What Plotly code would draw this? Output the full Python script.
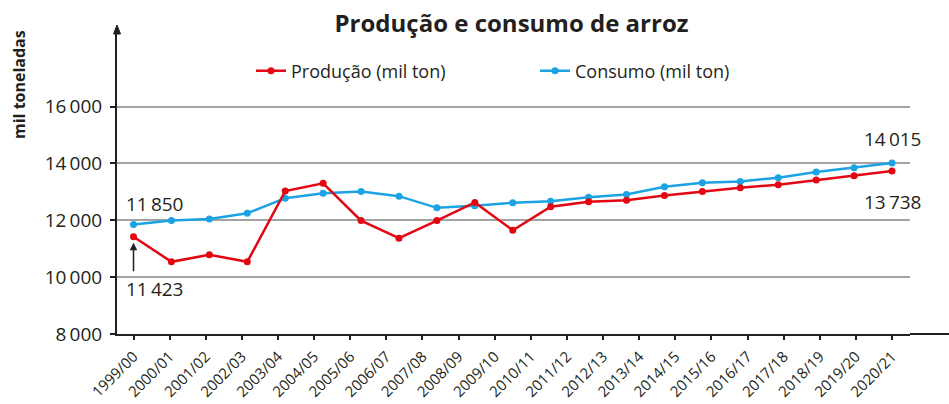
import plotly.graph_objects as go

# Safras exibidas no eixo horizontal
safras = ["1999/00", "2000/01", "2001/02", "2002/03", "2003/04", "2004/05",
          "2005/06", "2006/07", "2007/08", "2008/09", "2009/10", "2010/11",
          "2011/12", "2012/13", "2013/14", "2014/15", "2015/16", "2016/17",
          "2017/18", "2018/19", "2019/20", "2020/21"]

# Séries (mil toneladas)
producao = [11423, 10540, 10790, 10540, 13030, 13300, 11990, 11370, 11990,
            12630, 11650, 12480, 12650, 12710, 12870, 13010, 13150, 13250,
            13420, 13570, 13738]
consumo = [11850, 11990, 12050, 12250, 12780, 12950, 13010, 12850, 12440,
           12510, 12620, 12670, 12810, 12910, 13180, 13320, 13370, 13500,
           13700, 13850, 14015]

y_ticks = [8000, 10000, 12000, 14000, 16000]

TXT = "#231F20"
RED = "#E30613"
BLUE = "#1BA3E3"
FONT = "Open Sans"


def fmt(v):
    return f"{v:,}".replace(",", "\u2009")


pontos = list(range(len(producao)))

fig = go.Figure()
fig.add_trace(go.Scatter(
    x=pontos, y=consumo, xaxis="x2", name="Consumo (mil ton)",
    mode="lines+markers", line=dict(color=BLUE, width=2.5),
    marker=dict(color=BLUE, size=7)))
fig.add_trace(go.Scatter(
    x=pontos, y=producao, xaxis="x2", name="Produção (mil ton)",
    mode="lines+markers", line=dict(color=RED, width=2.5),
    marker=dict(color=RED, size=7)))

# invisible trace so the category axis carries all season labels
fig.add_trace(go.Scatter(x=safras, y=[None] * len(safras), mode="markers",
                         showlegend=False, hoverinfo="skip"))

n_pts = len(pontos) - 1
n_cat = len(safras) - 1
cat_range = [-0.457, n_cat + 0.498]
pt_range = [r * n_pts / n_cat for r in cat_range]

fig.update_layout(
    width=949, height=404,
    margin=dict(l=117, r=39, t=28, b=70),
    paper_bgcolor="white", plot_bgcolor="white",
    font=dict(family=FONT, color=TXT, size=18),
    title=dict(text="<b>Produção e consumo de arroz</b>",
               x=511.5 / 949, xanchor="center", y=1 - 24 / 404, yanchor="middle",
               font=dict(size=24, color=TXT, family=FONT)),
    showlegend=True,
    legend=dict(orientation="h", traceorder="reversed",
                x=(251 - 117) / 793, xanchor="left",
                y=(334 - 71) / 306, yanchor="middle",
                entrywidth=239, entrywidthmode="pixels",
                font=dict(size=18, color=TXT), bgcolor="rgba(0,0,0,0)"),
    xaxis=dict(type="category", categoryorder="array", categoryarray=safras,
               range=cat_range, showgrid=False, zeroline=False, automargin=False,
               showline=True, linecolor=TXT, linewidth=2,
               ticks="outside", ticklen=4, tickwidth=1.5, tickcolor=TXT,
               ticklabelstandoff=2,
               tickangle=-45, tickfont=dict(size=15, color=TXT)),
    xaxis2=dict(overlaying="x", range=pt_range, visible=False, automargin=False),
    yaxis=dict(range=[8000, 8000 + (334 - 28) / 0.02842], automargin=False,
               tickvals=y_ticks, ticktext=[fmt(v) for v in y_ticks],
               showgrid=True, gridcolor="#A3A3A3", gridwidth=1.5,
               zeroline=False, showline=True, linecolor=TXT, linewidth=2,
               ticks="outside", ticklen=5, tickwidth=1.5, tickcolor=TXT,
               ticklabelstandoff=4,
               tickfont=dict(size=19, color=TXT)),
)

# arrowhead on top of the vertical axis and extension of the horizontal axis
fig.add_shape(type="path", xref="paper", yref="paper", xsizemode="pixel",
              ysizemode="pixel", xanchor=0, yanchor=1,
              path="M -3.5,-6 L 3.5,-6 L 0,3 Z", fillcolor=TXT,
              line=dict(color=TXT, width=1))
fig.add_shape(type="line", xref="paper", yref="paper", x0=1, x1=(949 - 117) / 793,
              y0=0, y1=0, line=dict(color=TXT, width=2))

# axis title
fig.add_annotation(text="<b>mil toneladas</b>", xref="paper", yref="paper",
                   x=(19 - 117) / 793, y=(334 - 85) / 306, textangle=-90,
                   xanchor="center", yanchor="middle",
                   showarrow=False, font=dict(size=16, color=TXT))

# value labels
fig.add_annotation(text=fmt(consumo[0]), xref="x2", yref="y", x=0, y=consumo[0],
                   xanchor="left", xshift=-10, yshift=21, showarrow=False,
                   font=dict(size=19, color=TXT))
fig.add_annotation(text=fmt(producao[0]), xref="x2", yref="y", x=0, y=producao[0],
                   xanchor="left", xshift=-10, yshift=-52, showarrow=False,
                   font=dict(size=19, color=TXT))
fig.add_annotation(text="", xref="x2", yref="y", x=0, y=producao[0],
                   ax=0, ay=36, standoff=6, showarrow=True, arrowhead=2,
                   arrowsize=1, arrowwidth=1.5, arrowcolor=TXT)
fig.add_annotation(text=fmt(consumo[-1]), xref="x2", yref="y", x=n_pts, y=consumo[-1],
                   xanchor="center", yshift=24, showarrow=False,
                   font=dict(size=19, color=TXT))
fig.add_annotation(text=fmt(producao[-1]), xref="x2", yref="y", x=n_pts, y=producao[-1],
                   xanchor="center", yshift=-31, showarrow=False,
                   font=dict(size=19, color=TXT))

fig.write_html("out.html")
